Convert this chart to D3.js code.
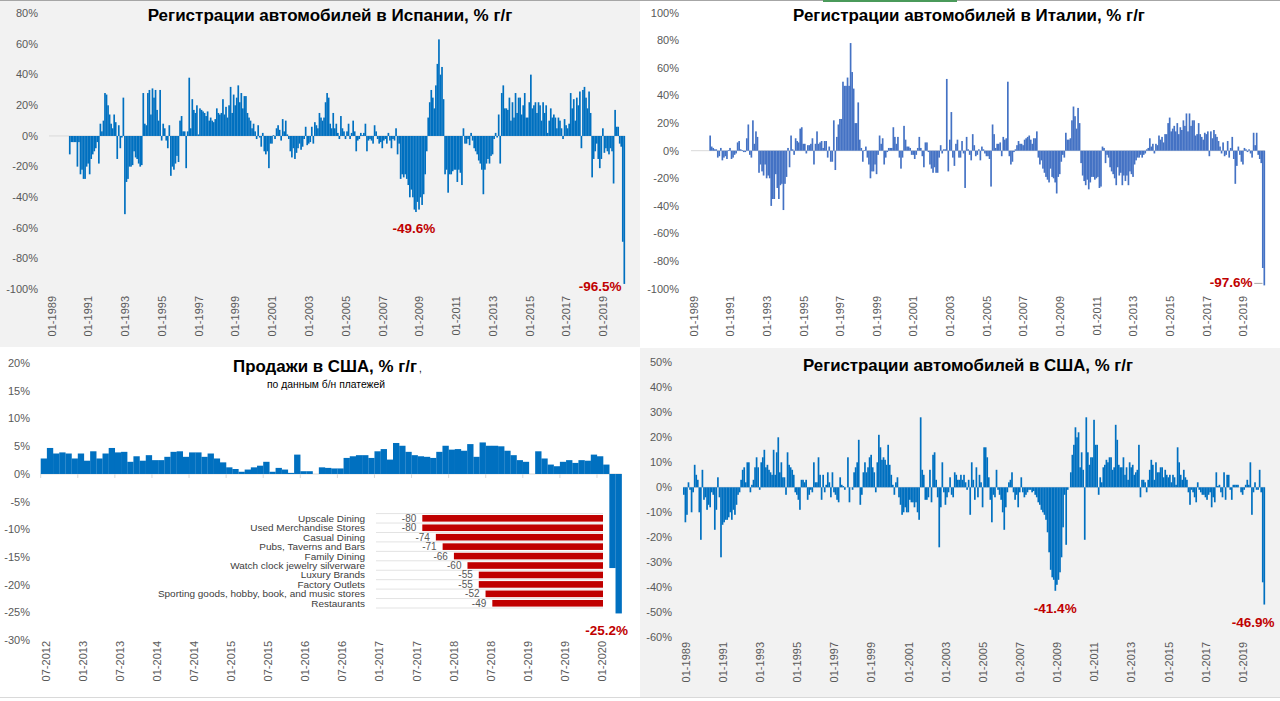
<!DOCTYPE html>
<html><head><meta charset="utf-8">
<script src="https://cdn.jsdelivr.net/npm/d3@7"></script>
<style>
html,body{margin:0;padding:0;background:#fff;}
svg{display:block;font-family:"Liberation Sans",Arial,sans-serif;}
</style></head><body>
<svg id="c" width="1280" height="701"></svg>
<script>
// ---------------- DATA ----------------
const spainTitle = "Регистрации автомобилей в Испании, % г/г";
const italyTitle = "Регистрации автомобилей в Италии, % г/г";
const usSalesTitle = "Продажи в США, % г/г";
const usSalesSubtitle = "по данным б/н платежей";
const usRegTitle = "Регистрации автомобилей в США, % г/г";

// monthly categories 01-1989 .. 04-2020 (376 months)
const longStart = [1989, 1];
const longCount = 376;
// monthly categories 07-2012 .. 04-2020 (94 months)
const salesStart = [2012, 7];
const salesCount = 94;

const yearTickLabels = ["01-1989","01-1991","01-1993","01-1995","01-1997","01-1999","01-2001","01-2003","01-2005","01-2007","01-2009","01-2011","01-2013","01-2015","01-2017","01-2019"];
const salesTickLabels = ["07-2012","01-2013","07-2013","01-2014","07-2014","01-2015","07-2015","01-2016","07-2016","01-2017","07-2017","01-2018","07-2018","01-2019","07-2019","01-2020"];

const spainYTicks = [80,60,40,20,0,-20,-40,-60,-80,-100];
const italyYTicks = [100,80,60,40,20,0,-20,-40,-60,-80,-100];
const salesYTicks = [20,15,10,5,0,-5,-10,-15,-20,-25,-30];
const usRegYTicks = [50,40,30,20,10,0,-10,-20,-30,-40,-50,-60];

const spainValues = [
null,null,null,null,null,null,null,null,null,null,null,null,null,
-12,-4,-4,-4,-4,-20,-4,-25,-22,-28,
-28,-20,-18,-25,-15,-12,-10,-8,-4,-18,
8,3,10,28,27,20,14,8,5,14,
9,-15,7,-8,-1,25,-51,-30,-28,-20,
-20,-19,-10,-14,-15,-18,-20,-19,28,8,
7,28,30,14,31,25,30,17,10,30,
-3,8,5,-3,-8,7,-26,-20,-22,-18,
-13,-17,10,13,3,3,-21,3,38,5,
24,17,15,20,1,18,17,16,15,13,
16,10,12,10,9,11,18,15,14,15,
24,14,19,12,20,32,15,27,20,25,
33,22,28,18,26,26,15,12,10,5,
8,3,-2,7,-1,-7,2,-10,-12,-10,
-21,-5,-5,0.5,-2,5,7,4,-3,11,
3,10,1,-2,-10,-14,-8,-15,-11,-8,
-5,-9,-7,-2,6,-6,-5,-4,6,-5,
9,7,5,15,12,10,12,22,28,25,
8,5,15,5,8,2,-2,13,5,3,
-2,3,8,-2,2,10,3,-10,-3,-2,
2,0.5,2,8,-10,-3,-2,-3,-5,7,
3,-2,-5,-4,-8,-3,-2,-5,2,-3,
-8,-2,-3,5,-12,-5,-28,-25,-27,-25,
-28,-32,-40,-35,-40,-48,-49.6,-43,-48,-40,
-45,-38,-25,-10,12,22,30,25,18,33,
47,63,40,45,24,-25,-22,-37,-25,-25,
-23,-22,-22,-30,-22,-24,-32,5,-5,-5,
-2,-6,2,-3,-8,-10,-12,-16,-18,-22,
-38,-22,-18,-15,-18,-13,-12,-2,2,-1,
14,-18,28,33,18,18,17,25,10,22,
12,28,15,25,25,14,20,28,12,12,
22,40,18,20,22,15,22,20,10,22,
15,20,2,10,18,12,14,12,5,12,
10,5,-2,11,7,5,8,28,18,24,
10,25,20,29,-8,30,32,25,18,29,
15,-27,-15,-10,-5,-15,-21,-15,5,-11,
-8,-10,-12,-8,-10,-31,17,6,6,-5,
-7,-69,-96.5
];

const italyValues = [
null,null,null,null,null,null,null,null,null,null,null,null,
11,3,2,1,1,-5,-4,2,-7,-5,
-4,-6,0.5,2,-6,-5,-3,-2,6,7,
1,0.5,-1,-1,9,19,-3,-5,22,5,
14,10,-16,-10,-15,-18,-10,-20,-18,-20,
-40,-35,-35,-17,-27,-35,-25,-24,-43,-24,
-19,2,-12,11,1,-3,9,7,6,16,
17,5,5,-2,4,4,5,9,-10,5,
14,5,6,7,2,7,7,-5,3,-8,
-8,22,-14,10,19,23,23,50,47,47,
53,47,78,57,45,20,20,35,8,2,
-8,0.5,3,-5,-10,-20,-15,-15,-10,-17,
-3,11,5,9,-10,-5,-1,2,2,2,
17,10,5,10,-5,-13,-5,18,8,3,
3,2,-3,-3,-6,-3,2,10,2,-4,
-12,6,6,-1,-10,-13,-16,-12,-16,-16,
-5,4,-2,1,1,52,-15,8,28,-5,
-11,5,8,
-5,-5,7,-2,-27,10,1,-3,-7,12,
4,-4,-3,1,-7,3,1,-2,-4,-4,
-6,-26,19,12,2,5,5,6,-4,10,
8,9,50,-4,-10,-8,-1,1,4,7,
5,5,4,8,9,10,11,8,5,9,
9,14,
-5,-10,-7,-13,-16,-19,-21,-23,-13,-19,-20,-23,-31,-19,-17,-8,-3,-5,
13,8,8,9,22,32,25,16,31,20,
-9,-18,-22,-25,-21,-28,-23,-19,-19,-21,-20,-19,-27,-26,
3,2,-9,-3,-5,-12,-15,-17,-20,-25,-12,-18,-16,-25,-18,-22,-18,-25,-15,-17,-19,-10,-7,-5,-5,-3,-5,-3,-2,
1,2,9,3,5,-2,5,4,11,8,10,6,12,12,20,24,14,16,18,14,20,12,17,15,22,18,27,14,27,18,22,22,11,12,20,12,10,8,13,12,14,-4,14,9,15,12,10,7,3,
-2,6,-4,-3,7,-5,2,10,-6,-24,-11,3,-3,-8,-10,2,1,-1,1,-2,-5,13,4,13,-3,-6,-9,-85,-97.6
];

const usRegValues = [
-3,-14,-11,2,-1,-10,-2,9,5,3,-10,-21,7,-5,-4,-9,-7,-8,-2,-3,-17,-9,4,-4,
-28,-15,-14,-13,-13,-12,-10,-13,-9,-11,-7,-3,-2,3,7,8,2,10,10,-2,1,3,8,12,8,-1,10,12,15,8,9,7,6,5,15,5,14,
20,6,10,4,4,-3,14,9,8,7,5,-2,-3,-5,-9,3,3,2,3,-5,-3,-1,-2,10,2,2,12,5,-5,5,-2,1,6,2,-4,6,-2,-3,-5,-6,4,1,0.5,-1,0,12,-6,0,-1,6,8,10,19,
-7,-3,6,10,6,8,12,13,8,6,-2,10,21,
16,11,12,11,9,17,9,5,1,-3,2,4,-4,-7,-11,-10,-8,-10,-10,-5,-6,-6,-8,-6,-10,-13,28,
7,5,-5,-5,-4,7,-6,13,14,3,-4,-24,-8,10,-2,-7,-4,-2,4,-3,-4,6,5,3,
3,5,3,5,2,-1,3,-11,10,3,
-5,8,-4,5,2,-8,16,16,12,4,-5,
-14,-3,-4,7,-1,-3,-5,-10,-17,-8,-2,
2,3,6,-2,-5,-3,-8,-2,4,-2,
-4,-3,-2,-1,-1,-2,-1.5,-3,-4,-6,-7,-9,-10,
-11,-13,-18,-26,-33,-36,-37,-41.4,-39,-37,-34,
-28,-16,-3,-23,-1,0,6,13,17,24,20,
22,8,14,7,-21,28,14,9,12,12,27,
17,17,-3,4,2,8,9,11,10,12,
12,7,8,25,19,9,8,8,12,5,8,
3,10,8,9,5,6,7,17,-4,3,
3,2,-2,3,7,11,9,3,10,6,6,8,
8,4,7,5,4,5,2,5,4,1,
16,10,5,3,7,4,3,-2,-7,-1,
-2,-4,-6,2,-1,-2,-3,-3,-4,-5,-3,-2,
-8,-4,-6,6,0.5,1,-2,-4,6,-5,
5,5,-1,-5,1,1,1,1,0,-2,-3,
-1,1,3,1,10,-11,-2,2,-1,-1,7,
-2,-38,-46.9
];

const salesValues = [
2.8,4.7,3.7,3.9,3.7,2.8,3.7,2.4,4.1,2.8,
3.7,4.7,3.9,4.0,2.2,3.2,2.4,3.4,2.5,2.5,
3.1,4.0,4.1,3.1,3.9,3.9,3.1,3.7,2.8,2.1,
1.2,0.9,0.4,0.8,1.2,1.5,2.2,0.4,1.1,0.8,
0.2,3.5,0.5,0.5,null,1.2,1.1,
1.0,1.0,2.9,3.2,3.4,3.4,2.9,4.1,4.5,2.6,5.6,5.1,4.0,3.4,3.2,3.1,2.9,4.0,5.1,4.4,
4.5,4.2,5.4,3.1,5.7,5.1,5.1,5.0,4.2,3.4,2.5,2.2,null,4.1,2.8,1.7,1.4,2.2,2.5,2.0,
2.5,2.4,3.5,3.2,1.7,-17.0,-25.2
];

const retailCategories = ["Upscale Dining","Used Merchandise Stores","Casual Dining","Pubs, Taverns and Bars","Family Dining","Watch clock jewelry silverware","Luxury Brands","Factory Outlets","Sporting goods, hobby, book, and music stores","Restaurants"];
const retailValues = [-80,-80,-74,-71,-66,-60,-55,-55,-52,-49];

// ---------------- HELPERS ----------------
function monthSeq(start, n){
  return d3.range(n).map(k=>{
    const t=(start[1]-1)+k;
    return String(t%12+1).padStart(2,"0")+"-"+(start[0]+Math.floor(t/12));
  });
}
function fitWidth(sel, w){
  const len = sel.node().getComputedTextLength();
  const fs = parseFloat(sel.attr("font-size"));
  sel.attr("font-size", (fs*w/len).toFixed(2));
}
const svg = d3.select("#c");
const TICK = "#595959", RED = "#C00000";

// backgrounds
svg.append("rect").attr("x",0).attr("y",0).attr("width",640).attr("height",347).attr("fill","#F2F2F2");
svg.append("rect").attr("x",640).attr("y",348).attr("width",640).attr("height",349).attr("fill","#F2F2F2");
svg.append("line").attr("x1",0).attr("x2",1280).attr("y1",0.5).attr("y2",0.5).attr("stroke","#a6a6a6");
svg.append("rect").attr("x",823).attr("y",0).attr("width",134).attr("height",2).attr("fill","#4a9a5a");
// partial chart edge at the very bottom
svg.append("line").attr("x1",0).attr("x2",1280).attr("y1",697.5).attr("y2",697.5).attr("stroke","#d9d9d9");

function drawPanel(cfg){
  const g = svg.append("g");
  const cats = cfg.cats;
  const x = d3.scaleBand().domain(cats).range(cfg.xRange).padding(cfg.padding||0);
  const y = d3.scaleLinear().domain(cfg.yDomain).range(cfg.yRange);
  // y tick labels
  g.selectAll("text.yt").data(cfg.yTicks).join("text")
    .attr("x", cfg.yLabelX).attr("y", d=>y(d)).attr("dy","0.35em")
    .attr("text-anchor","end").attr("font-size",11).attr("fill",TICK)
    .text(d=>d+"%");
  // baseline
  g.append("line").attr("x1",cfg.xRange[0]).attr("x2",cfg.xRange[1])
    .attr("y1",y(0)).attr("y2",y(0)).attr("stroke","#d9d9d9").attr("stroke-width",1);
  if(cfg.tickEvery){
    const tk = cats.filter((c,i)=>i%cfg.tickEvery===0);
    g.selectAll("line.tk").data(tk).join("line")
      .attr("x1",d=>x(d)).attr("x2",d=>x(d)).attr("y1",y(0)).attr("y2",y(0)+4)
      .attr("stroke","#d9d9d9");
  }
  // bars
  const data = cfg.values.map((v,i)=>({c:cats[i], v})).filter(d=>d.v!=null);
  g.selectAll("rect.b").data(data).join("rect")
    .attr("x", d=>x(d.c)).attr("width", x.bandwidth()+0.15)
    .attr("y", d=>Math.min(y(d.v),y(0))).attr("height", d=>Math.abs(y(d.v)-y(0)))
    .attr("fill", cfg.color);
  // x tick labels (rotated)
  g.selectAll("text.xt").data(cfg.xLabels).join("text")
    .attr("transform", d=>`translate(${x(d)+x.bandwidth()/2+cfg.xLabelShift},${cfg.xLabelTop}) rotate(-90)`)
    .attr("text-anchor","end").attr("dy","0.35em").attr("font-size",11).attr("fill",TICK)
    .text(d=>d);
  // title
  const t = g.append("text").attr("x",cfg.titleX).attr("y",cfg.titleY).attr("text-anchor","middle")
    .attr("font-weight","bold").attr("font-size",16).attr("fill","#000").text(cfg.title);
  fitWidth(t, cfg.titleW);
  // annotations
  (cfg.notes||[]).forEach(n=>{
    const i = n.index;
    g.append("text").attr("x", x(cats[i])+x.bandwidth()/2+n.dx).attr("y", y(cfg.values[i])+n.dy)
      .attr("text-anchor","middle").attr("font-weight","bold").attr("font-size",13.5).attr("fill",RED)
      .text(cfg.values[i].toFixed(1)+"%");
    if(n.leader){
      g.append("line").attr("x1",x(cats[i])+x.bandwidth()/2+n.dx+23).attr("x2",x(cats[i])-1)
        .attr("y1",y(cfg.values[i])+n.dy-4).attr("y2",y(cfg.values[i])+n.dy-4)
        .attr("stroke","#a6a6a6");
    }
  });
  return {g,x,y};
}

const longCats = monthSeq(longStart, longCount);
const salesCats = monthSeq(salesStart, salesCount);
const minIdx = (arr, a, b) => { let m=a; for(let i=a;i<=b;i++){ if(arr[i]!=null && arr[i]<arr[m]) m=i;} return m; };

// Spain
drawPanel({cats:longCats, values:spainValues, xRange:[49,625], yDomain:[-100,80], yRange:[289.3,13.3],
  yTicks:spainYTicks, yLabelX:38, xLabels:yearTickLabels, xLabelTop:296, xLabelShift:2,
  color:"#0070C0", title:spainTitle, titleX:330, titleY:21, titleW:365,
  notes:[{index:minIdx(spainValues,200,300), dx:-2, dy:21},{index:375, dx:-24, dy:7}]});

// Italy
drawPanel({cats:longCats, values:italyValues, xRange:[691,1265], yDomain:[-100,100], yRange:[288.7,12.7],
  yTicks:italyYTicks, yLabelX:679, xLabels:yearTickLabels, xLabelTop:296, xLabelShift:2,
  color:"#4472C4", title:italyTitle, titleX:969, titleY:21, titleW:352,
  notes:[{index:375, dx:-33, dy:2, leader:true}]});

// US registrations
drawPanel({cats:longCats, values:usRegValues, xRange:[683,1265], yDomain:[-60,50], yRange:[637.3,362.3],
  yTicks:usRegYTicks, yLabelX:672, xLabels:yearTickLabels, xLabelTop:642, xLabelShift:2,
  color:"#0070C0", title:usRegTitle, titleX:968, titleY:371, titleW:330,
  notes:[{index:minIdx(usRegValues,200,300), dx:0, dy:22},{index:375, dx:-11, dy:22}]});

// US card sales
const sales = drawPanel({cats:salesCats, values:salesValues, xRange:[40.7,621.7], yDomain:[-30,20], yRange:[640,363.3],
  yTicks:salesYTicks, yLabelX:30, xLabels:salesTickLabels, xLabelTop:641, xLabelShift:2, tickEvery:6,
  color:"#0070C0", title:usSalesTitle, titleX:325, titleY:372, titleW:184,
  notes:[{index:93, dx:-12, dy:22}]});
svg.append("text").attr("x",419).attr("y",372).attr("font-size",10).attr("fill","#000").text(",");
const sub = svg.append("text").attr("x",326).attr("y",388).attr("text-anchor","middle")
  .attr("font-size",9).attr("fill","#000").text(usSalesSubtitle);
fitWidth(sub, 118);

// inset: retail categories
const ix = d3.scaleLinear().domain([-80,0]).range([422.3,603]);
const iy = d3.scaleBand().domain(retailCategories).range([513.6,608]).paddingInner(0.3).paddingOuter(0.15);
const ig = svg.append("g");
const step = iy.step();
ig.selectAll("line.grid").data(retailCategories).join("line")
  .attr("x1",376).attr("x2",603).attr("y1",d=>iy(d)-step*0.15).attr("y2",d=>iy(d)-step*0.15)
  .attr("stroke","#e3e3e3");
ig.append("line").attr("x1",376).attr("x2",603).attr("y1",608).attr("y2",608).attr("stroke","#e3e3e3");
ig.selectAll("rect").data(retailValues).join("rect")
  .attr("x",d=>ix(d)).attr("width",d=>ix(0)-ix(d))
  .attr("y",(d,i)=>iy(retailCategories[i])).attr("height",iy.bandwidth())
  .attr("fill",RED);
ig.selectAll("text.v").data(retailValues).join("text")
  .attr("x",d=>ix(d)-6).attr("y",(d,i)=>iy(retailCategories[i])+iy.bandwidth()/2).attr("dy","0.35em")
  .attr("text-anchor","end").attr("font-size",10).attr("fill",TICK).text(d=>d);
const cl = ig.selectAll("text.c").data(retailCategories).join("text")
  .attr("x",365).attr("y",d=>iy(d)+iy.bandwidth()/2).attr("dy","0.35em")
  .attr("text-anchor","end").attr("font-size",10).attr("fill","#404040").text(d=>d);
// fit category labels so the longest matches reference width
const longest = cl.filter(d=>d===retailCategories[8]);
const lw = longest.node().getComputedTextLength();
cl.attr("font-size", (10*207/lw).toFixed(2));
</script>
</body></html>
